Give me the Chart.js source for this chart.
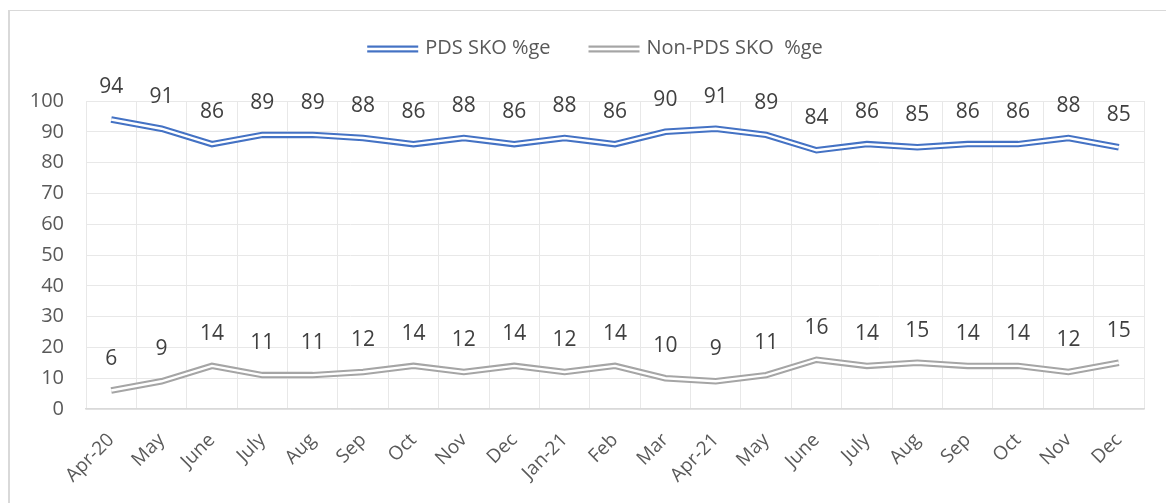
<!DOCTYPE html>
<html>
<head>
<meta charset="utf-8">
<script src="https://cdn.jsdelivr.net/npm/chart.js@4/dist/chart.umd.min.js"></script>
<style>
  html, body { margin: 0; padding: 0; background: #fff; }
  #wrap { position: relative; width: 1166px; height: 503px; }
</style>
</head>
<body>
<div id="wrap"><canvas id="chart"></canvas></div>
<script>
var months = ['Apr-20', 'May', 'June', 'July', 'Aug', 'Sep', 'Oct', 'Nov', 'Dec', 'Jan-21', 'Feb',
              'Mar', 'Apr-21', 'May', 'June', 'July', 'Aug', 'Sep', 'Oct', 'Nov', 'Dec'];
var pdsValues = [94, 91, 86, 89, 89, 88, 86, 88, 86, 88, 86, 90, 91, 89, 84, 86, 85, 86, 86, 88, 85];
var nonPdsValues = [6, 9, 14, 11, 11, 12, 14, 12, 14, 12, 14, 10, 9, 11, 16, 14, 15, 14, 14, 12, 15];
var seriesNames = ['PDS SKO %ge', 'Non-PDS SKO  %ge'];
var seriesColours = ['#4472C4', '#A5A5A5'];
var yTicks = [0, 10, 20, 30, 40, 50, 60, 70, 80, 90, 100];

const FONT = '"Open Sans", "DejaVu Sans", sans-serif';

// outer frame of the excel chart object
const frame = {
    id: 'frame',
    beforeDraw(chart) {
        const ctx = chart.ctx;
        ctx.save();
        ctx.fillStyle = '#d9d9d9';
        ctx.fillRect(8, 10, 2, 493);
        ctx.fillRect(8, 10, 1158, 1);
        ctx.restore();
    }
};

// value labels above each point
const valueLabels = {
    id: 'valueLabels',
    afterDatasetsDraw(chart) {
        const ctx = chart.ctx;
        ctx.save();
        ctx.font = '21px ' + FONT;
        ctx.fillStyle = '#404040';
        ctx.textAlign = 'center';
        ctx.textBaseline = 'middle';
        chart.data.datasets.forEach((ds, i) => {
            if (ds.inner) return;
            chart.getDatasetMeta(i).data.forEach((pt, j) => {
                ctx.fillText(String(ds.data[j]), pt.x, pt.y - 32);
            });
        });
        ctx.restore();
    }
};

// legend with double-line markers
const doubleLegend = {
    id: 'doubleLegend',
    afterDraw(chart) {
        const ctx = chart.ctx;
        ctx.save();
        ctx.font = '20px ' + FONT;
        ctx.textBaseline = 'middle';
        const markW = 51, gapText = 7, gapItem = 38;
        const items = chart.data.datasets.filter(d => !d.inner);
        let total = 0;
        items.forEach((d, i) => {
            total += markW + gapText + ctx.measureText(d.label).width;
            if (i < items.length - 1) total += gapItem;
        });
        let x = 595 - total / 2;
        const y = 49;
        items.forEach(d => {
            ctx.fillStyle = d.borderColor;
            ctx.fillRect(x, y - 3.5, markW, 2.2);
            ctx.fillRect(x, y + 1.3, markW, 2.2);
            x += markW + gapText;
            ctx.fillStyle = '#595959';
            ctx.fillText(d.label, x, y - 1);
            x += ctx.measureText(d.label).width + gapItem;
        });
        ctx.restore();
    }
};

function outer(label, data, colour) {
    return {
        label: label, data: data, borderColor: colour, backgroundColor: colour,
        borderWidth: 6.5, pointRadius: 0, tension: 0, order: 1,
        borderJoinStyle: 'miter'
    };
}
function inner(data) {
    return {
        label: '', data: data, borderColor: '#ffffff', borderWidth: 2.4,
        pointRadius: 0, tension: 0, order: 0, inner: true, borderJoinStyle: 'miter'
    };
}

const ctx = document.getElementById('chart').getContext('2d');
new Chart(ctx, {
    type: 'line',
    data: {
        labels: months,
        datasets: [
            outer(seriesNames[0], pdsValues, seriesColours[0]),
            outer(seriesNames[1], nonPdsValues, seriesColours[1]),
            inner(pdsValues),
            inner(nonPdsValues)
        ]
    },
    options: {
        responsive: true,
        maintainAspectRatio: false,
        animation: false,
        layout: { padding: { top: 101, right: 22, bottom: 0, left: 0 } },
        plugins: {
            legend: { display: false },
            tooltip: { enabled: false }
        },
        scales: {
            x: {
                offset: true,
                grid: { offset: true, color: '#e8e8e8', drawTicks: false },
                border: { color: '#d9d9d9', width: 1.5 },
                ticks: {
                    minRotation: 45, maxRotation: 45, autoSkip: false,
                    padding: 20, color: '#595959', font: { family: FONT, size: 19 }
                },
                afterFit(scale) { scale.height = 94; }
            },
            y: {
                min: 0, max: 100,
                afterBuildTicks(scale) { scale.ticks = yTicks.map(v => ({ value: v })); },
                grid: { color: '#e8e8e8', drawTicks: false },
                border: { display: false },
                ticks: { padding: 22, color: '#595959', font: { family: FONT, size: 20 } },
                afterFit(scale) { scale.width = 86; }
            }
        }
    },
    plugins: [frame, valueLabels, doubleLegend]
});
</script>
</body>
</html>
